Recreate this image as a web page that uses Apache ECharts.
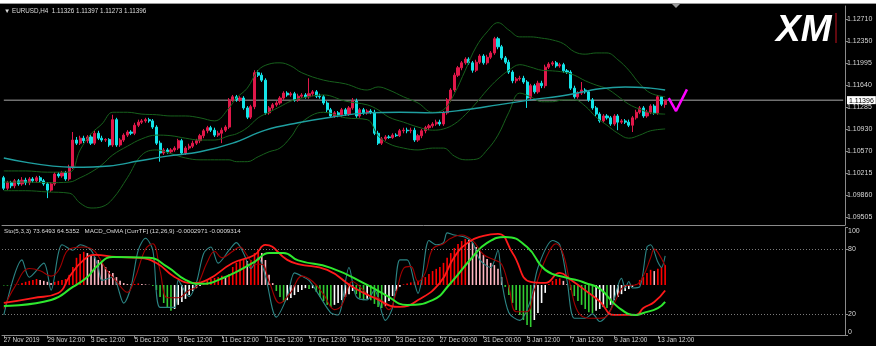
<!DOCTYPE html>
<html><head><meta charset="utf-8">
<script src="https://cdn.jsdelivr.net/npm/echarts/dist/echarts.min.js"></script>
<style>
html,body{margin:0;padding:0;background:#fff;width:881px;height:355px;overflow:hidden;}
#bg{position:absolute;left:0;top:4px;width:876px;height:342px;background:#000;}
#topline{position:absolute;left:0;top:3px;width:876px;height:1px;background:#9a9a9a;}
#chart{position:absolute;left:0;top:0;width:881px;height:355px;}
</style></head><body>
<div id="bg"></div><div id="topline"></div><div id="chart"></div>
<script>
// ---------- data ----------
const timeLabels = ['27 Nov 2019','29 Nov 12:00','3 Dec 12:00','5 Dec 12:00','9 Dec 12:00','11 Dec 12:00','13 Dec 12:00','17 Dec 12:00','19 Dec 12:00','23 Dec 12:00','27 Dec 00:00','31 Dec 00:00','3 Jan 12:00','7 Jan 12:00','9 Jan 12:00','13 Jan 12:00'];
const priceTicks = [1.12710,1.12350,1.11995,1.11640,1.11285,1.10930,1.10570,1.10215,1.09860,1.09505];
const stochTicks = [0,20,80,100];
const lastClose = 1.11396;
// [open, close, low, high]
const candles = [
[1.1014,1.0997,1.0994,1.1017],[1.0997,1.1006,1.0994,1.1009],[1.1006,1.1001,1.0997,1.1009],[1.1001,1.1009,1.0997,1.1012],[1.1009,1.1004,1.1001,1.1012],
[1.1004,1.1010,1.1001,1.1015],[1.1010,1.1006,1.1002,1.1014],[1.1006,1.1012,1.1002,1.1015],[1.1012,1.1009,1.1006,1.1015],[1.1009,1.1014,1.1006,1.1017],
[1.1014,1.1009,1.1006,1.1017],[1.1009,1.1004,1.1001,1.1012],[1.1004,1.0994,1.0981,1.1007],[1.0994,1.1004,1.0991,1.1007],[1.1004,1.1020,1.1001,1.1023],
[1.1020,1.1017,1.1014,1.1023],[1.1017,1.1022,1.1014,1.1025],[1.1022,1.1012,1.1009,1.1025],[1.1012,1.1031,1.1009,1.1035],[1.1031,1.1075,1.1028,1.1088],
[1.1075,1.1070,1.1067,1.1080],[1.1070,1.1078,1.1067,1.1082],[1.1078,1.1074,1.1070,1.1082],[1.1074,1.1080,1.1070,1.1083],[1.1080,1.1070,1.1067,1.1085],
[1.1070,1.1086,1.1067,1.1090],[1.1086,1.1078,1.1075,1.1090],[1.1078,1.1075,1.1072,1.1082],[1.1075,1.1076,1.1072,1.1078],[1.1076,1.1067,1.1064,1.1078],
[1.1067,1.1108,1.1064,1.1116],[1.1108,1.1067,1.1064,1.1111],[1.1067,1.1075,1.1064,1.1078],[1.1075,1.1083,1.1072,1.1086],[1.1083,1.1088,1.1080,1.1091],
[1.1088,1.1086,1.1083,1.1091],[1.1086,1.1099,1.1083,1.1103],[1.1099,1.1104,1.1096,1.1108],[1.1104,1.1106,1.1101,1.1109],[1.1106,1.1108,1.1103,1.1111],
[1.1108,1.1106,1.1103,1.1111],[1.1106,1.1096,1.1093,1.1109],[1.1096,1.1070,1.1067,1.1099],[1.1070,1.1054,1.1040,1.1074],[1.1054,1.1059,1.1051,1.1062],
[1.1059,1.1056,1.1053,1.1062],[1.1056,1.1059,1.1053,1.1062],[1.1059,1.1062,1.1056,1.1065],[1.1062,1.1074,1.1059,1.1077],[1.1074,1.1054,1.1051,1.1077],
[1.1054,1.1062,1.1051,1.1065],[1.1062,1.1065,1.1059,1.1069],[1.1065,1.1070,1.1062,1.1074],[1.1070,1.1074,1.1067,1.1077],[1.1074,1.1082,1.1070,1.1085],
[1.1082,1.1090,1.1078,1.1093],[1.1090,1.1095,1.1086,1.1098],[1.1095,1.1091,1.1088,1.1098],[1.1091,1.1083,1.1080,1.1095],[1.1083,1.1086,1.1080,1.1090],
[1.1086,1.1091,1.1070,1.1095],[1.1091,1.1096,1.1088,1.1099],[1.1096,1.1140,1.1093,1.1143],[1.1140,1.1145,1.1137,1.1148],[1.1145,1.1140,1.1137,1.1148],
[1.1140,1.1143,1.1137,1.1146],[1.1143,1.1127,1.1124,1.1146],[1.1127,1.1112,1.1109,1.1130],[1.1112,1.1129,1.1109,1.1132],[1.1129,1.1184,1.1125,1.1188],
[1.1184,1.1180,1.1177,1.1188],[1.1180,1.1172,1.1169,1.1184],[1.1172,1.1119,1.1116,1.1175],[1.1119,1.1127,1.1116,1.1130],[1.1127,1.1132,1.1124,1.1135],
[1.1132,1.1135,1.1129,1.1138],[1.1135,1.1143,1.1132,1.1146],[1.1143,1.1151,1.1140,1.1154],[1.1151,1.1148,1.1145,1.1154],[1.1148,1.1150,1.1145,1.1153],
[1.1150,1.1140,1.1137,1.1153],[1.1140,1.1146,1.1137,1.1150],[1.1146,1.1148,1.1143,1.1151],[1.1148,1.1145,1.1142,1.1151],[1.1145,1.1150,1.1142,1.1175],
[1.1150,1.1153,1.1146,1.1156],[1.1153,1.1146,1.1143,1.1156],[1.1146,1.1145,1.1142,1.1150],[1.1145,1.1135,1.1132,1.1148],[1.1135,1.1124,1.1120,1.1138],
[1.1124,1.1114,1.1111,1.1127],[1.1114,1.1119,1.1111,1.1122],[1.1119,1.1116,1.1112,1.1122],[1.1116,1.1124,1.1112,1.1127],[1.1124,1.1117,1.1114,1.1127],
[1.1117,1.1127,1.1114,1.1130],[1.1127,1.1138,1.1124,1.1143],[1.1138,1.1114,1.1111,1.1142],[1.1114,1.1124,1.1111,1.1127],[1.1124,1.1119,1.1116,1.1127],
[1.1119,1.1122,1.1116,1.1125],[1.1122,1.1120,1.1117,1.1125],[1.1120,1.1086,1.1083,1.1124],[1.1086,1.1070,1.1067,1.1090],[1.1070,1.1077,1.1067,1.1080],
[1.1077,1.1080,1.1074,1.1083],[1.1080,1.1079,1.1077,1.1083],[1.1079,1.1083,1.1077,1.1086],[1.1083,1.1082,1.1080,1.1086],[1.1082,1.1090,1.1080,1.1093],
[1.1090,1.1091,1.1086,1.1095],[1.1091,1.1090,1.1086,1.1095],[1.1090,1.1091,1.1086,1.1095],[1.1091,1.1075,1.1072,1.1095],[1.1075,1.1082,1.1072,1.1085],
[1.1082,1.1090,1.1078,1.1093],[1.1090,1.1095,1.1086,1.1098],[1.1095,1.1098,1.1091,1.1101],[1.1098,1.1101,1.1095,1.1104],[1.1101,1.1104,1.1098,1.1108],
[1.1104,1.1101,1.1098,1.1108],[1.1101,1.1119,1.1098,1.1122],[1.1119,1.1140,1.1116,1.1143],[1.1140,1.1156,1.1137,1.1159],[1.1156,1.1180,1.1153,1.1184],
[1.1180,1.1192,1.1177,1.1195],[1.1192,1.1200,1.1188,1.1203],[1.1200,1.1206,1.1197,1.1209],[1.1206,1.1200,1.1197,1.1209],[1.1200,1.1188,1.1184,1.1203],
[1.1188,1.1201,1.1185,1.1205],[1.1201,1.1211,1.1198,1.1214],[1.1211,1.1200,1.1197,1.1214],[1.1200,1.1209,1.1197,1.1213],[1.1209,1.1216,1.1206,1.1219],
[1.1216,1.1239,1.1213,1.1242],[1.1239,1.1226,1.1222,1.1242],[1.1226,1.1208,1.1205,1.1229],[1.1208,1.1201,1.1198,1.1211],[1.1201,1.1185,1.1182,1.1205],
[1.1185,1.1171,1.1167,1.1188],[1.1171,1.1174,1.1167,1.1177],[1.1174,1.1175,1.1171,1.1179],[1.1175,1.1169,1.1166,1.1179],[1.1169,1.1143,1.1127,1.1172],
[1.1143,1.1163,1.1140,1.1166],[1.1163,1.1153,1.1150,1.1166],[1.1153,1.1167,1.1150,1.1171],[1.1167,1.1163,1.1159,1.1171],[1.1163,1.1193,1.1159,1.1197],
[1.1193,1.1198,1.1190,1.1201],[1.1198,1.1200,1.1195,1.1203],[1.1200,1.1195,1.1192,1.1203],[1.1195,1.1197,1.1192,1.1200],[1.1197,1.1187,1.1184,1.1200],
[1.1187,1.1185,1.1182,1.1190],[1.1185,1.1159,1.1156,1.1188],[1.1159,1.1145,1.1142,1.1163],[1.1145,1.1151,1.1142,1.1154],[1.1151,1.1156,1.1148,1.1169],
[1.1156,1.1153,1.1150,1.1159],[1.1153,1.1140,1.1137,1.1156],[1.1140,1.1127,1.1124,1.1143],[1.1127,1.1117,1.1114,1.1130],[1.1117,1.1106,1.1103,1.1120],
[1.1106,1.1114,1.1103,1.1117],[1.1114,1.1111,1.1108,1.1117],[1.1111,1.1101,1.1098,1.1114],[1.1101,1.1114,1.1098,1.1117],[1.1114,1.1104,1.1091,1.1117],
[1.1104,1.1106,1.1101,1.1109],[1.1106,1.1104,1.1101,1.1109],[1.1104,1.1099,1.1096,1.1108],[1.1099,1.1111,1.1088,1.1114],[1.1111,1.1120,1.1108,1.1124],
[1.1120,1.1127,1.1117,1.1130],[1.1127,1.1114,1.1111,1.1130],[1.1114,1.1120,1.1111,1.1124],[1.1120,1.1130,1.1117,1.1133],[1.1130,1.1119,1.1116,1.1133],
[1.1119,1.1145,1.1116,1.1148],[1.1145,1.1133,1.1130,1.1146],[1.11326,1.11396,1.11273,1.11397]
];
// Bollinger bands and moving average, read as [bar index, price]
const upperBand = [[0,1.1025],[6,1.1025],[12,1.1023],[18,1.1023],[21,1.1059],[24,1.1085],[27,1.1101],[30,1.1120],[34,1.1120],[38,1.1117],[42,1.1116],[46,1.1114],[50,1.1114],[54,1.1111],[58,1.1106],[62,1.1127],[64,1.1143],[67,1.1159],[70,1.1188],[73,1.1198],[76,1.1200],[79,1.1195],[82,1.1184],[88,1.1172],[94,1.1166],[100,1.1156],[103,1.1161],[106,1.1156],[110,1.1145],[114,1.1135],[118,1.1120],[121,1.1124],[124,1.1150],[127,1.1188],[130,1.1226],[133,1.1250],[136,1.1265],[139,1.1253],[142,1.1242],[145,1.1242],[148,1.1240],[151,1.1237],[154,1.1231],[157,1.1218],[160,1.1214],[163,1.1216],[166,1.1216],[169,1.1205],[172,1.1188],[175,1.1166],[178,1.1151],[182,1.1145]];
const middleBand = [[0,1.1007],[6,1.1007],[12,1.1006],[18,1.1007],[21,1.1014],[24,1.1023],[27,1.1035],[30,1.1051],[34,1.1065],[38,1.1077],[42,1.1083],[46,1.1082],[50,1.1078],[54,1.1075],[58,1.1075],[62,1.1082],[64,1.1085],[67,1.1095],[70,1.1111],[73,1.1120],[76,1.1129],[79,1.1138],[82,1.1143],[88,1.1148],[94,1.1138],[100,1.1132],[103,1.1124],[106,1.1112],[110,1.1104],[114,1.1096],[118,1.1091],[121,1.1093],[124,1.1101],[127,1.1116],[130,1.1135],[133,1.1156],[136,1.1174],[139,1.1188],[142,1.1197],[145,1.1193],[148,1.1188],[151,1.1187],[154,1.1185],[157,1.1180],[160,1.1171],[163,1.1164],[166,1.1158],[169,1.1146],[172,1.1133],[175,1.1125],[178,1.1119],[182,1.1117]];
const lowerBand = [[0,1.0993],[6,1.0993],[12,1.0991],[18,1.0989],[21,1.0973],[24,1.0965],[27,1.0967],[30,1.0980],[34,1.1014],[38,1.1051],[42,1.1059],[46,1.1053],[50,1.1046],[54,1.1043],[58,1.1043],[62,1.1043],[64,1.1040],[67,1.1040],[70,1.1048],[73,1.1056],[76,1.1062],[79,1.1080],[82,1.1104],[88,1.1120],[94,1.1111],[100,1.1108],[103,1.1082],[106,1.1069],[110,1.1062],[114,1.1059],[118,1.1062],[121,1.1062],[124,1.1049],[127,1.1043],[130,1.1044],[133,1.1059],[136,1.1083],[139,1.1120],[142,1.1151],[145,1.1145],[148,1.1137],[151,1.1137],[154,1.1140],[157,1.1140],[160,1.1130],[163,1.1112],[166,1.1099],[169,1.1086],[172,1.1078],[175,1.1083],[178,1.1090],[182,1.1093]];
const maLine = [[0,1.1046],[19,1.1031],[29,1.1033],[37,1.1041],[45,1.1049],[54,1.1056],[63,1.1070],[72,1.1091],[81,1.1103],[90,1.1112],[100,1.1119],[109,1.1120],[118,1.1119],[127,1.1124],[136,1.1132],[145,1.1140],[155,1.1148],[164,1.1158],[171,1.1161],[178,1.1159],[182,1.1156]];
const arrowPath = [[183,1.1143],[185,1.1122],[188,1.1157]];
// indicator window
const osma = [-2,-2,-1,1,2,6,10,13,16,19,16,13,10,6,10,13,16,19,32,57,86,98,105,101,95,89,79,70,57,44,38,25,13,6,3,2,3,5,3,2,1,-3,-16,-38,-57,-70,-82,-76,-63,-54,-44,-32,-19,-10,-3,3,13,19,22,25,29,25,35,57,70,79,81,76,79,101,111,101,79,32,6,-19,-38,-54,-48,-41,-32,-22,-16,-10,-13,-10,-22,-38,-51,-63,-70,-63,-57,-48,-38,-29,-19,-29,-41,-48,-44,-48,-60,-70,-73,-67,-51,-35,-19,-6,2,5,8,10,13,19,25,35,44,51,57,70,86,101,117,130,139,146,143,133,120,108,95,82,70,63,51,25,-6,-32,-57,-79,-95,-111,-127,-133,-111,-89,-57,-25,3,13,19,21,13,3,-16,-35,-51,-63,-76,-86,-89,-82,-76,-70,-73,-63,-48,-38,-29,-19,-13,-6,3,16,25,38,48,44,51,57,63];
const stochMain = [[0,19],[5,70],[7,54],[11,67],[13,42],[15,76],[16,84],[19,79],[21,84],[24,79],[26,63],[27,51],[30,54],[33,30],[35,45],[37,79],[39,90],[41,79],[43,26],[47,26],[48,51],[51,36],[53,49],[55,76],[57,82],[59,67],[62,79],[64,86],[66,76],[68,62],[70,72],[72,55],[75,17],[78,36],[80,58],[82,55],[84,51],[87,36],[90,21],[92,19],[95,63],[97,36],[100,33],[102,42],[105,14],[107,26],[109,70],[111,70],[113,49],[114,39],[115,51],[117,88],[119,84],[121,86],[122,95],[124,93],[127,91],[129,86],[131,70],[134,63],[136,79],[137,51],[139,21],[142,14],[145,33],[147,63],[151,88],[153,84],[155,51],[157,16],[160,16],[162,20],[164,13],[167,24],[170,53],[171,44],[172,50],[173,44],[175,45],[177,82],[178,84],[180,68],[181,63],[182,73.65]];
const stochSignal = [[0,25],[3,45],[7,62],[10,60],[13,55],[15,60],[18,80],[22,82],[25,78],[28,62],[31,50],[34,40],[36,52],[39,80],[41,85],[43,60],[45,35],[48,35],[51,42],[53,45],[56,68],[58,78],[60,72],[63,78],[65,82],[67,74],[69,66],[71,66],[73,50],[76,30],[79,40],[82,55],[85,50],[88,38],[91,24],[93,28],[96,50],[98,45],[101,36],[103,35],[106,24],[108,40],[110,62],[112,64],[114,50],[116,58],[118,80],[121,85],[123,90],[126,93],[129,88],[132,75],[135,70],[137,66],[139,45],[141,22],[144,22],[146,42],[149,70],[152,85],[154,75],[156,45],[158,22],[161,16],[164,16],[166,18],[168,30],[171,46],[174,47],[176,55],[178,72],[179,80],[180,77],[182,64.54]];
const macdLine = [[0,-99],[8,-72],[15,-44],[18,44],[22,138],[25,165],[31,154],[37,149],[42,121],[47,44],[52,11],[56,28],[63,121],[69,165],[72,220],[78,138],[81,115],[89,83],[96,-11],[102,-72],[109,-121],[114,-83],[120,11],[124,154],[128,237],[132,270],[136,281],[140,176],[145,17],[149,11],[153,66],[156,28],[161,-44],[164,-90],[168,-165],[174,-165],[176,-127],[179,-94],[182,-30]];
const macdSignal = [[0,-116],[13,-83],[19,-11],[23,44],[26,110],[30,154],[40,149],[45,99],[50,28],[54,6],[61,44],[69,127],[73,176],[77,176],[81,135],[90,94],[100,0],[105,-55],[111,-110],[118,-83],[123,11],[129,154],[133,231],[138,264],[144,209],[149,83],[155,39],[158,25],[160,11],[164,-20],[169,-121],[174,-165],[176,-154],[180,-127],[182,-93]];

// ---------- chart ----------
const SLOTS = 232;
const cats = Array.from({length: SLOTS}, (_, i) => String(i));
const FONT = 'Liberation Sans, Arial, sans-serif';
const TXT = '#d6d6d6';
const AX = '#8a8a8a';
const showTick = (idx) => idx % 12 === 0 && idx / 12 < timeLabels.length;
const priceLabelValues = priceTicks.concat([lastClose]);
const bidLine = [[0, lastClose], [SLOTS - 1, lastClose]];

const histData = osma.map((v, i) => {
  const p = i > 0 ? osma[i - 1] : 0;
  let c;
  if (v >= 0) c = v >= p ? '#ff0000' : '#ffb6c1';
  else c = v <= p ? '#32cd32' : '#ffffff';
  return { value: v, itemStyle: { color: c } };
});

const chart = echarts.init(document.getElementById('chart'), null, { renderer: 'canvas' });
const thin = (data, color, width, smooth, xi, yi, z) => ({
  type: 'line', data, xAxisIndex: xi, yAxisIndex: yi, smooth, showSymbol: false, symbol: 'none',
  lineStyle: { color, width }, z: z || 3, silent: true
});

chart.setOption({
  animation: false,
  backgroundColor: 'transparent',
  grid: [
    { left: 2, right: 36, top: 6, height: 219 },
    { left: 2, right: 36, top: 227.5, height: 108 }
  ],
  xAxis: [
    { gridIndex: 0, type: 'category', data: cats, boundaryGap: true,
      axisLine: { show: true, lineStyle: { color: AX, width: 1 } }, axisTick: { show: false }, axisLabel: { show: false }, splitLine: { show: false } },
    { gridIndex: 1, type: 'category', data: cats, boundaryGap: true,
      axisLine: { show: true, lineStyle: { color: AX, width: 1 } },
      axisTick: { show: true, alignWithLabel: true, interval: showTick, length: 3, lineStyle: { color: AX } },
      axisLabel: { interval: showTick, formatter: (v, idx) => showTick(idx) ? timeLabels[idx / 12] : '',
        align: 'left', color: TXT, fontSize: 6.3, fontFamily: FONT, margin: 2 },
      splitLine: { show: false } }
  ],
  yAxis: [
    { gridIndex: 0, type: 'value', position: 'right', min: 1.09375, max: 1.12920, scale: true,
      axisLine: { show: true, lineStyle: { color: AX } },
      axisTick: { show: true, length: 3, customValues: priceTicks, lineStyle: { color: AX } },
      axisLabel: { customValues: priceLabelValues, color: TXT, fontSize: 7, fontFamily: FONT, margin: 2,
        formatter: v => Math.abs(v - lastClose) < 1e-9 ? '{cur|' + v.toFixed(5) + '}' : v.toFixed(5),
        rich: { cur: { backgroundColor: '#ffffff', color: '#000000', fontSize: 7, fontFamily: FONT, padding: [1, 2, 0, 2] } } },
      splitLine: { show: false } },
    { gridIndex: 1, type: 'value', position: 'right', min: 0, max: 100,
      axisLine: { show: true, lineStyle: { color: AX } },
      axisTick: { show: true, length: 3, customValues: stochTicks, lineStyle: { color: AX } },
      axisLabel: { customValues: stochTicks, color: TXT, fontSize: 7, fontFamily: FONT, margin: 3,
        formatter: v => v === 100 ? '{t|100}' : (v === 0 ? '{b|0}' : String(v)),
        rich: { t: { padding: [7, 0, 0, 0], fontSize: 7, color: TXT, fontFamily: FONT },
                b: { padding: [0, 0, 7, 0], fontSize: 7, color: TXT, fontFamily: FONT } } },
      splitLine: { show: false } },
    { gridIndex: 1, type: 'value', min: -160, max: 182, show: false },
    { gridIndex: 1, type: 'value', min: -278, max: 316, show: false }
  ],
  series: [
    thin(bidLine, '#707070', 1.5, false, 0, 0, 3),
    { type: 'candlestick', xAxisIndex: 0, yAxisIndex: 0, data: candles, barWidth: 2.6, z: 4,
      itemStyle: { color: '#e0184a', color0: '#14e4e8', borderColor: '#e0184a', borderColor0: '#14e4e8', borderWidth: 1 } },
    thin(upperBand, '#17601c', 1, 0.4, 0, 0, 5),
    thin(middleBand, '#17601c', 1, 0.4, 0, 0, 5),
    thin(lowerBand, '#17601c', 1, 0.4, 0, 0, 5),
    thin(maLine, '#1f9fa0', 1.4, 0.4, 0, 0, 5),
    { type: 'line', xAxisIndex: 0, yAxisIndex: 0, z: 6, silent: true,
      data: arrowPath.map((p, i) => i === arrowPath.length - 1
        ? { value: p, symbol: 'triangle', symbolSize: 9, symbolRotate: -32 }
        : { value: p, symbol: 'none' }),
      showSymbol: true, lineStyle: { color: '#ff00ff', width: 2.5 }, itemStyle: { color: '#ff00ff' } },
    { type: 'bar', xAxisIndex: 1, yAxisIndex: 2, data: histData, barWidth: 1.6, z: 2, silent: true },
    Object.assign(thin(stochMain, '#2b8585', 1.1, 0.3, 1, 1, 3), {
      markLine: { silent: true, symbol: ['none', 'none'], label: { show: false },
        data: [{ yAxis: 80 }, { yAxis: 20 }],
        lineStyle: { color: '#7a7a7a', width: 1, type: [1, 2] } } }),
    thin(stochSignal, '#a00000', 1.1, 0.4, 1, 1, 3),
    thin(macdLine, '#ff1a1a', 1.8, 0.5, 1, 3, 4),
    thin(macdSignal, '#2ee82e', 2, 0.5, 1, 3, 4)
  ],
  graphic: [
    { type: 'text', left: 4, top: 8, silent: true,
      style: { text: '▼ EURUSD,H4  1.11326 1.11397 1.11273 1.11396', fill: '#dcdcdc', font: '6.3px ' + FONT } },
    { type: 'text', left: 4, top: 228.5, silent: true,
      style: { text: 'Sto(5,3,3) 73.6493 64.5352   MACD_OsMA [CurrTF] (12,26,9) -0.0002971 -0.0009314', fill: '#dcdcdc', font: '6.2px ' + FONT } },
    { type: 'text', left: 776, top: 12, silent: true,
      style: { text: 'XM', fill: '#ffffff', font: 'italic 900 37px ' + FONT } },
    { type: 'line', silent: true, shape: { x1: 836, y1: 13, x2: 836, y2: 43 }, style: { stroke: '#c3121f', lineWidth: 1 } },
    { type: 'polygon', silent: true, shape: { points: [[672, 4], [680, 4], [676, 8]] }, style: { fill: '#9a9a9a' } }
  ]
});
</script></body></html>
